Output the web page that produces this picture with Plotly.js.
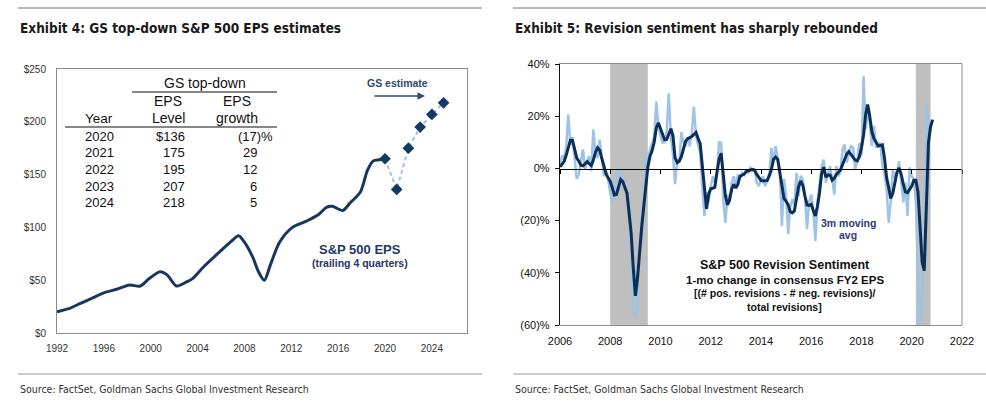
<!DOCTYPE html>
<html><head><meta charset="utf-8">
<script src="https://cdn.plot.ly/plotly-3.0.1.min.js"></script>
<style>html,body{margin:0;padding:0;background:#fff;} #chart{width:986px;height:404px;}</style>
</head><body><div id="chart"></div>
<script>
// ---------- Exhibit 4 data ----------
const epsYear = [1992.0,1993.0,1994.0,1995.0,1996.0,1997.1,1998.2,1999.1,1999.9,2000.8,2001.4,2002.2,2003.1,2003.6,2004.5,2005.9,2006.8,2007.5,2008.0,2008.7,2009.2,2009.7,2010.2,2011.0,2012.1,2013.3,2014.3,2015.0,2015.5,2016.4,2017.0,2017.9,2018.5,2019.0,2019.5,2020.0];
const epsValue = [20,23,28,33,38,41.4,45.4,44.5,51.8,58,55,44.5,48.6,51.8,62.5,77,86,92,86,72,58,50,64,86,100,106,112,119,120,116,123,133.5,154,163,164,165];
const estYear = [2020,2021,2022,2023,2024,2025];
const estValue = [165,136,175,195,207,218];
const tableYears = ['2020','2021','2022','2023','2024'];
const tableLevels = ['$136','175','195','207','218'];
const tableGrowth = [-17,29,12,6,5];

// ---------- Exhibit 5 data (monthly, Jan 2006 onward) ----------
const sentimentAvg = [
 0.6,1.5,2.6,5.0,8.0,10.8,10.8,7.8,4.0,2.8,1.2,1.0,
 2.0,2.6,1.8,1.1,3.2,6.2,7.9,7.0,3.8,0.8,-2.0,-3.6,
 -5.0,-7.5,-10.2,-10.0,-7.0,-4.2,-5.0,-7.0,-9.5,-17.0,-25.0,-38.0,
 -48.8,-42.0,-32.0,-23.0,-15.0,-6.5,0.5,4.7,6.8,10.0,15.5,17.5,
 15.2,12.5,11.0,11.1,13.5,15.2,12.5,4.0,2.2,2.8,4.6,7.5,
 10.5,11.4,11.7,12.2,13.0,13.8,11.5,9.5,1.0,-8.0,-15.5,-10.0,
 -7.8,-7.6,-7.2,-1.5,3.5,5.8,-1.7,-10.5,-14.0,-12.0,-8.0,-6.1,
 -7.5,-6.0,-3.0,-2.5,-2.2,-1.2,-0.8,-0.6,-0.4,-0.8,-2.3,-3.5,
 -4.6,-4.8,-4.7,-4.6,-2.8,-0.5,3.5,4.3,3.4,-1.5,-7.5,-11.5,
 -12.6,-14.0,-16.5,-17.0,-16.3,-11.5,-7.0,-4.8,-6.5,-10.5,-14.0,-14.2,
 -13.8,-16.2,-18.2,-14.5,-9.3,-2.0,0.5,-3.4,-2.5,-2.5,-4.5,-3.8,
 -2.3,-1.5,-0.6,1.5,3.4,5.5,6.4,5.4,4.0,3.2,2.9,4.5,
 7.9,13.0,20.5,24.5,20.0,14.0,11.5,10.0,8.6,8.8,9.0,4.0,
 -3.5,-7.4,-11.5,-9.5,-6.1,-1.5,0.2,-2.3,-6.0,-9.0,-9.3,-8.0,
 -6.8,-4.5,-4.5,-9.0,-24.6,-36.0,-39.2,-13.0,10.0,16.0,18.7];
const sentimentRaw = [
 1.0,5.0,3.4,8.0,20.6,9.0,12.0,3.0,-4.0,-2.3,2.0,7.3,
 -0.4,3.0,4.7,-1.0,15.0,5.0,4.0,11.0,4.0,-3.0,-1.0,-4.0,
 -9.3,-13.0,-10.6,-6.0,0.4,-2.9,-5.0,-6.8,-9.0,-19.6,-30.0,-55.5,
 -57.0,-52.9,-29.6,-20.0,-13.0,4.7,2.0,7.3,9.8,12.0,25.6,16.2,
 12.4,9.8,10.0,14.3,28.7,12.0,5.4,-6.0,3.4,2.0,14.0,9.8,
 8.5,12.0,8.5,13.6,23.7,12.4,9.0,6.0,-6.8,-18.2,-9.0,-13.0,
 -6.8,-3.0,-5.5,-2.0,10.0,9.8,-11.8,-20.9,-10.0,-13.0,-5.5,-3.0,
 -6.8,-2.3,-4.0,-1.7,-2.5,-0.4,-1.5,0.3,-0.8,-0.4,-5.5,-6.8,
 -4.2,-3.0,-6.8,-5.0,-2.9,7.9,2.0,8.5,3.0,-0.4,-22.0,-4.0,
 -10.6,-25.2,-15.0,-11.8,-14.0,-1.7,-10.6,-2.9,-4.2,-10.0,-23.3,-13.0,
 -10.0,-16.2,-27.8,-13.0,-6.0,0.9,3.4,-5.5,-2.0,0.9,-4.0,-10.0,
 0.9,-3.0,-1.0,7.3,9.2,2.2,6.0,8.5,7.9,-0.4,3.0,9.8,
 5.0,35.3,15.0,21.3,18.0,8.5,16.2,7.9,9.0,9.8,0.9,-1.7,
 -8.0,-20.9,-13.0,-0.4,-3.6,-2.0,2.8,-5.0,-13.0,-5.5,-18.2,0.4,
 -3.0,-4.2,-13.0,-38.5,-62.0,-47.8,-30.0,25.0,13.6,16.8,17.0];
const recessionStart = ['2008-01-01','2020-03-01'];
const recessionEnd = ['2009-07-01','2020-10-01'];
const startYear = 2006;
const months = sentimentAvg.map((_, i) => {
  const y = startYear + Math.floor(i / 12), m = (i % 12) + 1;
  return y + '-' + (m < 10 ? '0' + m : m) + '-01';
});

// ---------- layout helpers ----------
const W = 986, H = 404;
const px = x => x / W;
const py = y => 1 - y / H;
const NAVY = '#17375e';
const LIGHT = '#9dc3e6';
const COND = 'DejaVu Sans Condensed, Liberation Sans Narrow, sans-serif';
const ARIAL = 'Arial, Liberation Sans, sans-serif';

const traces = [
  {x: epsYear, y: epsValue, xaxis: 'x', yaxis: 'y', mode: 'lines', line: {color: NAVY, width: 3, shape: 'spline', smoothing: 0.8}, hoverinfo: 'skip'},
  {x: estYear, y: estValue, xaxis: 'x', yaxis: 'y', mode: 'lines+markers', line: {color: LIGHT, width: 2, dash: '4px,3px'}, marker: {symbol: 'diamond', size: 9, color: '#123a63'}, hoverinfo: 'skip'},
  {x: months, y: sentimentRaw, xaxis: 'x2', yaxis: 'y2', mode: 'lines', line: {color: LIGHT, width: 2.5}, hoverinfo: 'skip'},
  {x: months, y: sentimentAvg, xaxis: 'x2', yaxis: 'y2', mode: 'lines', line: {color: '#0c2f57', width: 3}, hoverinfo: 'skip'},
  {x: [months[0]], y: [null], xaxis: 'x3', yaxis: 'y2', mode: 'lines', hoverinfo: 'skip'}
];

const ann = [];
const shapes = [];
function txt(x, y, text, size, opts) {
  ann.push(Object.assign({xref: 'paper', yref: 'paper', x: px(x), y: py(y), text: text, showarrow: false,
    xanchor: 'center', yanchor: 'middle', font: {family: ARIAL, size: size, color: '#111'}}, opts || {}));
}
function hline(x0, x1, y, color, width) {
  shapes.push({type: 'line', xref: 'paper', yref: 'paper', x0: px(x0), x1: px(x1), y0: py(y), y1: py(y), line: {color: color, width: width}});
}

// titles, rules, sources
hline(18, 482, 8, '#777', 1);
hline(513, 986, 8, '#777', 1);
hline(18, 482, 374, '#999', 1);
hline(513, 986, 374, '#999', 1);
const titleFont = {family: COND, size: 13.5, color: '#1a1a1a', stretch: 'condensed'};
const srcFont = {family: COND, size: 10.5, color: '#333', stretch: 'condensed'};
txt(18, 28, '<b>Exhibit 4: GS top-down S&P 500 EPS estimates</b>', 13.5, {xanchor: 'left', font: titleFont});
txt(513, 28, '<b>Exhibit 5: Revision sentiment has sharply rebounded</b>', 13.5, {xanchor: 'left', font: titleFont});
txt(18, 389, 'Source: FactSet, Goldman Sachs Global Investment Research', 10.5, {xanchor: 'left', font: srcFont});
txt(513, 389, 'Source: FactSet, Goldman Sachs Global Investment Research', 10.5, {xanchor: 'left', font: srcFont});

// table
txt(205, 83, 'GS top-down', 14);
hline(132, 277, 92, '#111', 1.2);
txt(168, 101, 'EPS', 14); txt(168, 118, 'Level', 14);
txt(237, 101, 'EPS', 14); txt(237, 118, 'growth', 14);
txt(99, 118, 'Year', 13.5);
hline(65, 277, 127, '#111', 1.2);
tableYears.forEach((yr, i) => {
  const yy = 136 + i * 16.7;
  txt(99.5, yy, yr, 13);
  txt(187, yy, tableLevels[i], 13, {xanchor: 'right'});
  const g = tableGrowth[i];
  if (g < 0) txt(275, yy, '(' + (-g) + ')%', 13, {xanchor: 'right'});
  else txt(259, yy, String(g), 13, {xanchor: 'right'});
});
txt(397, 83, '<b>GS estimate</b>', 10.5, {font: {family: ARIAL, size: 10.5, color: '#2e4a72'}});
ann.push({xref: 'paper', yref: 'paper', x: px(425), y: py(96), ax: -52, ay: 0, text: '', showarrow: true,
  arrowhead: 2, arrowsize: 1, arrowwidth: 1.5, arrowcolor: '#2e4a72'});
txt(360, 249, '<b>S&P 500 EPS</b>', 13, {font: {family: ARIAL, size: 13, color: '#1f3864'}});
txt(360, 263, '<b>(trailing 4 quarters)</b>', 10.5, {font: {family: ARIAL, size: 10.5, color: '#1f3864'}});

// right annotations
txt(848, 223, '<b>3m moving</b>', 10.5, {font: {family: ARIAL, size: 10.5, color: '#2b3c78'}});
txt(848, 235, '<b>avg</b>', 10.5, {font: {family: ARIAL, size: 10.5, color: '#2b3c78'}});
txt(785, 265, '<b>S&P 500 Revision Sentiment</b>', 12.5);
txt(785, 280, '<b>1-mo change in consensus FY2 EPS</b>', 11.5);
txt(785, 293, '<b>[(# pos. revisions - # neg. revisions)/</b>', 10.5);
txt(784, 307, '<b>total revisions]</b>', 10.5);

// recession bands
recessionStart.forEach((s, i) => {
  shapes.push({type: 'rect', xref: 'x2', yref: 'y2', x0: s, x1: recessionEnd[i], y0: -60, y1: 40,
    fillcolor: '#bfbfbf', line: {width: 0}, layer: 'below'});
});
// right border of right panel
shapes.push({type: 'line', xref: 'paper', yref: 'paper', x0: px(962), x1: px(962), y0: py(325), y1: py(64), line: {color: '#8c8c8c', width: 1}});

const layout = {
  width: W, height: H, margin: {l: 0, r: 0, t: 0, b: 0},
  paper_bgcolor: '#fff', plot_bgcolor: 'rgba(0,0,0,0)', showlegend: false,
  font: {family: ARIAL, color: '#222'},
  xaxis: {domain: [px(57), px(467)], range: [1992, 2027], tick0: 1992, dtick: 4, showgrid: false, zeroline: false,
    showline: true, mirror: true, linecolor: '#8c8c8c', linewidth: 1, ticks: '', ticklabelstandoff: 6,
    tickfont: {family: ARIAL, size: 10, color: '#333'}, anchor: 'y'},
  yaxis: {domain: [py(333), py(69)], range: [0, 250], dtick: 50, tickprefix: '$', showgrid: false, zeroline: false,
    showline: true, mirror: true, linecolor: '#8c8c8c', linewidth: 1, ticks: '', ticklabelstandoff: 8,
    tickfont: {family: ARIAL, size: 10, color: '#333'}, anchor: 'x'},
  xaxis2: {domain: [px(560), px(962)], range: ['2006-01-01', '2022-01-01'], dtick: 'M24', tick0: '2006-01-01', tickformat: '%Y',
    showgrid: false, zeroline: false, showline: true, mirror: 'allticks', linecolor: '#8c8c8c', linewidth: 1, ticks: '',
    ticklabelstandoff: 6, tickfont: {family: ARIAL, size: 11, color: '#111'}, anchor: 'y2'},
  xaxis3: {overlaying: 'x2', anchor: 'free', position: py(169), range: ['2006-01-01', '2022-01-01'], dtick: 'M24', tick0: '2006-01-01',
    showgrid: false, zeroline: false, showline: true, linecolor: '#000', linewidth: 1.2, ticks: 'outside', ticklen: 4,
    tickcolor: '#000', showticklabels: false},
  yaxis2: {domain: [py(325), py(64)], range: [-60, 40], tickvals: [-60, -40, -20, 0, 20, 40],
    ticktext: ['(60)%', '(40)%', '(20)%', '0%', '20%', '40%'], showgrid: false, zeroline: false,
    showline: true, linecolor: '#111', linewidth: 1.2, ticks: 'outside', ticklen: 4, tickcolor: '#111',
    ticklabelstandoff: 3, tickfont: {family: ARIAL, size: 11, color: '#111'}, anchor: 'x2'},
  annotations: ann, shapes: shapes
};

Plotly.newPlot('chart', traces, layout, {staticPlot: true, displayModeBar: false});
</script></body></html>
